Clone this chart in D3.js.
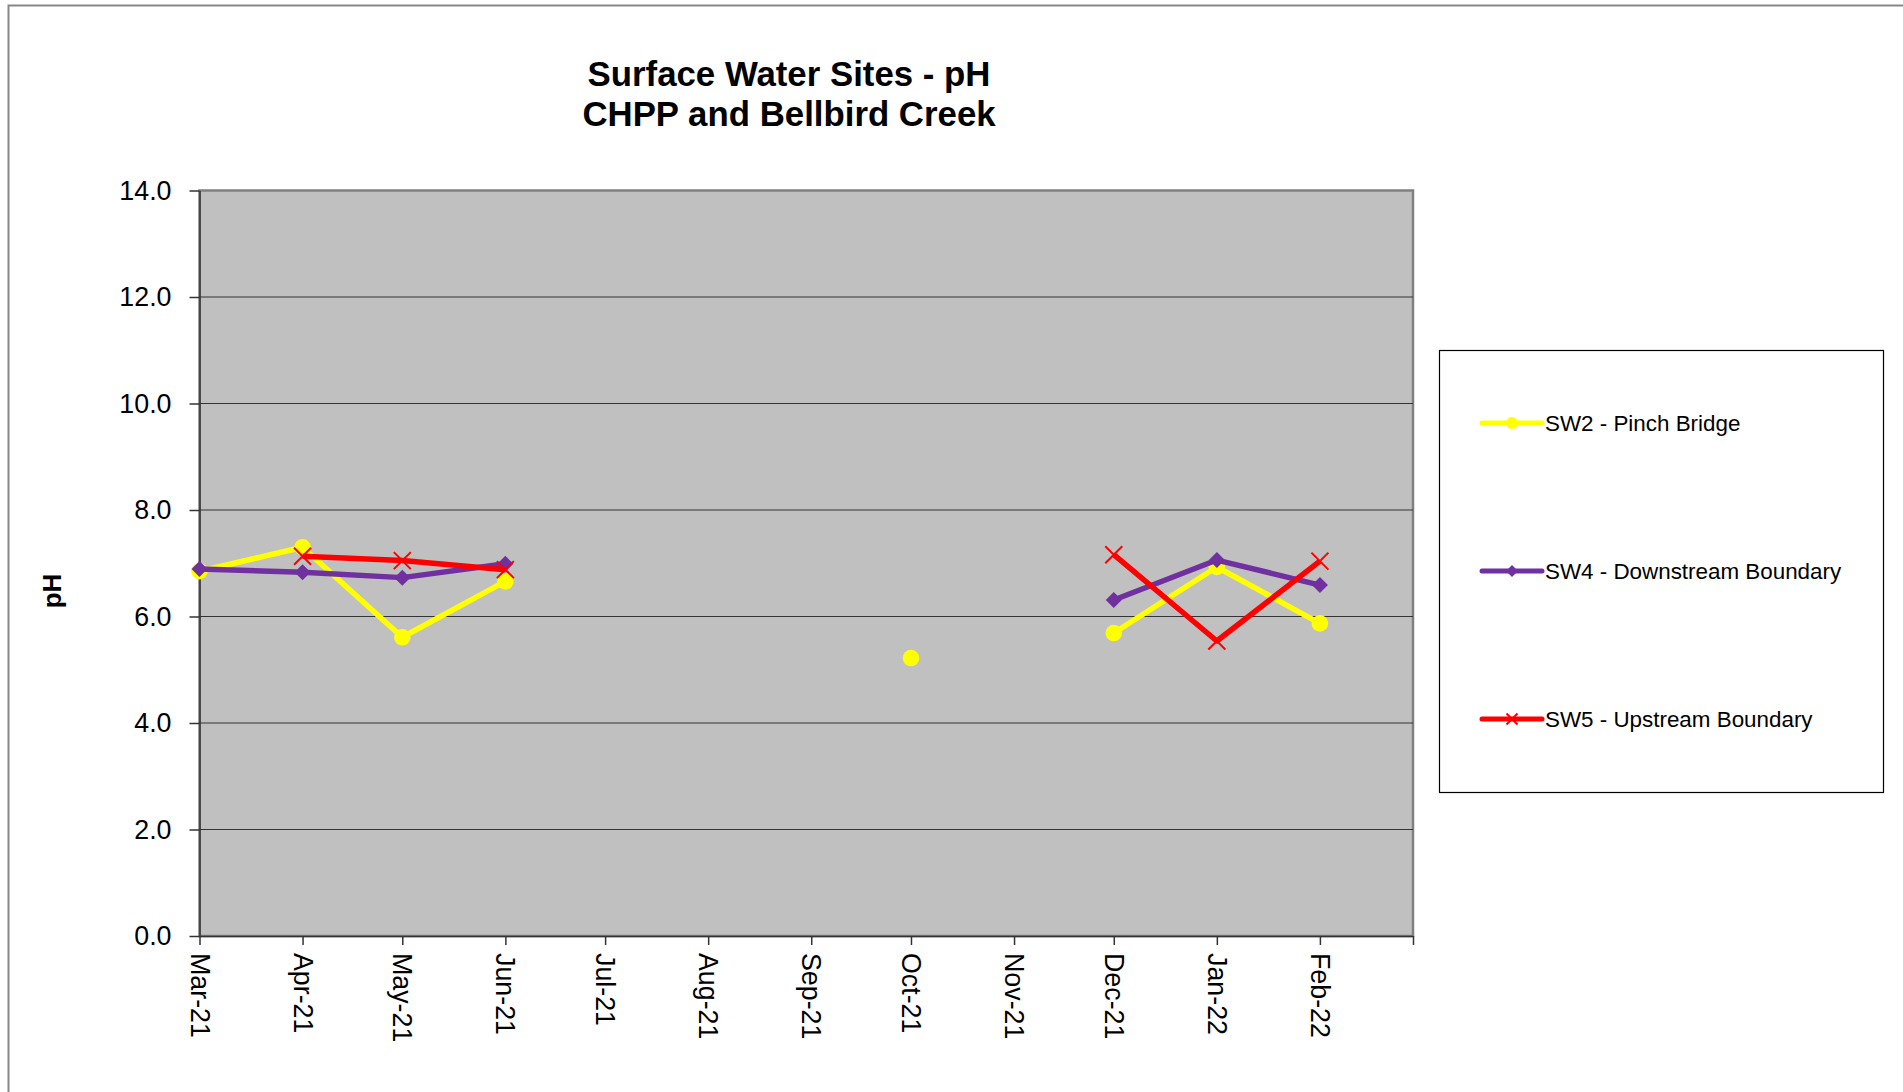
<!DOCTYPE html>
<head>
<meta charset="utf-8">
<style>
body, html {
  margin: 0;
  padding: 0;
  background: #fff;
  font-family: "Liberation Sans", Arial, sans-serif;
}
.grid line {
  stroke: #333;
  stroke-width: 1.2;
}
.axis path, .axis line {
  stroke: #333;
  stroke-width: 1.5;
}
.axis text {
  font-size: 26.8px;
  fill: #000;
}
</style>
<script src="https://d3js.org/d3.v7.min.js"></script>
</head>
<body>
<script>

// months and readings (pH), null = no sample
var months = ["2021-03-01", "2021-04-01", "2021-05-01", "2021-06-01", "2021-07-01", "2021-08-01",
              "2021-09-01", "2021-10-01", "2021-11-01", "2021-12-01", "2022-01-01", "2022-02-01"];
var sw2 = [6.85, 7.30, 5.61, 6.66, null, null, null, 5.22, null, 5.69, 6.93, 5.87];
var sw4 = [6.89, 6.83, 6.73, 6.99, null, null, null, null, null, 6.31, 7.06, 6.59];
var sw5 = [null, 7.13, 7.05, 6.88, null, null, null, null, null, 7.16, 5.54, 7.04];
var yTicks = [0, 2, 4, 6, 8, 10, 12, 14];

var seriesNames = ["SW2 - Pinch Bridge", "SW4 - Downstream Boundary", "SW5 - Upstream Boundary"];
var seriesColors = ["#ffff00", "#7030a0", "#ff0000"];
var seriesMarkers = ["circle", "diamond", "cross"];

//==========================================
var width = 1903,
    height = 1092;

var parse = d3.timeParse("%Y-%m-%d");
var dates = months.map(parse);

var plot = {left: 199.5, right: 1413, top: 190.5, bottom: 936};

var x = d3.scaleTime()
    .domain([parse("2021-03-01"), parse("2022-03-01")])
    .range([plot.left, plot.right]);

var y = d3.scaleLinear()
    .domain([0, 14])
    .range([plot.bottom, plot.top]);

var svg = d3.select("body").append("svg")
    .attr("width", width)
    .attr("height", height);

// outer chart frame
svg.append("rect")
    .attr("x", 8.5).attr("y", 5.5)
    .attr("width", width).attr("height", height)
    .attr("fill", "#fff")
    .attr("stroke", "#888")
    .attr("stroke-width", 2);

// title
var title = svg.append("text")
    .attr("text-anchor", "middle")
    .style("font-weight", "bold")
    .style("font-size", "34.8px");
title.append("tspan").attr("x", 789).attr("y", 86).text("Surface Water Sites - pH");
title.append("tspan").attr("x", 789).attr("y", 125.5).text("CHPP and Bellbird Creek");

// plot area
svg.append("rect")
    .attr("x", plot.left).attr("y", plot.top)
    .attr("width", plot.right - plot.left)
    .attr("height", plot.bottom - plot.top)
    .attr("fill", "#c0c0c0")
    .attr("stroke", "#808080")
    .attr("stroke-width", 2.5);

// horizontal gridlines
svg.append("g")
    .attr("class", "grid")
    .selectAll("line")
    .data(yTicks.slice(1, -1))
    .enter().append("line")
    .attr("x1", plot.left).attr("x2", plot.right)
    .attr("y1", function(d) { return y(d); })
    .attr("y2", function(d) { return y(d); });

// y axis
svg.append("g")
    .attr("class", "axis")
    .attr("transform", "translate(" + plot.left + ",0)")
    .call(d3.axisLeft(y).tickValues(yTicks).tickFormat(d3.format(".1f"))
      .tickSize(10).tickSizeOuter(0).tickPadding(18));

// x axis
var xAxis = svg.append("g")
    .attr("class", "axis")
    .attr("transform", "translate(0," + plot.bottom + ")")
    .call(d3.axisBottom(x).ticks(d3.timeMonth.every(1)).tickFormat(d3.timeFormat("%b-%y"))
      .tickSize(9).tickSizeOuter(0));

xAxis.selectAll("text")
    .attr("text-anchor", "start")
    .attr("transform", "translate(0,17) rotate(90)")
    .attr("x", 0).attr("y", 0)
    .attr("dy", "0.35em")
    .filter(function(d) { return d >= parse("2022-03-01"); })
    .remove();

// y label
svg.append("text")
    .attr("transform", "translate(52,591) rotate(-90)")
    .attr("text-anchor", "middle")
    .attr("dy", "0.35em")
    .style("font-weight", "bold")
    .style("font-size", "26px")
    .text("pH");

//--------------------------------------
function drawMarker(g, type, color, px, py, s) {
  if (type === "circle") {
    g.append("circle").attr("cx", px).attr("cy", py).attr("r", s)
      .attr("fill", color);
  } else if (type === "diamond") {
    g.append("path")
      .attr("d", "M" + px + "," + (py - s) + "L" + (px + s) + "," + py +
                 "L" + px + "," + (py + s) + "L" + (px - s) + "," + py + "Z")
      .attr("fill", color);
  } else {
    g.append("path")
      .attr("d", "M" + (px - s) + "," + (py - s) + "L" + (px + s) + "," + (py + s) +
                 "M" + (px + s) + "," + (py - s) + "L" + (px - s) + "," + (py + s))
      .attr("stroke", color).attr("stroke-width", 2).attr("fill", "none");
  }
}

var line = d3.line()
    .defined(function(d) { return d.v !== null; })
    .x(function(d) { return x(d.date); })
    .y(function(d) { return y(d.v); });

[sw2, sw4, sw5].forEach(function(vals, i) {
  var data = vals.map(function(v, j) { return {date: dates[j], v: v}; });
  var g = svg.append("g");
  g.append("path")
    .datum(data)
    .attr("fill", "none")
    .attr("stroke", seriesColors[i])
    .attr("stroke-width", 5.5)
    .attr("stroke-linejoin", "round")
    .attr("d", line);
  var size = [8.3, 8, 8.5][i];
  data.filter(function(d) { return d.v !== null; }).forEach(function(d) {
    drawMarker(g, seriesMarkers[i], seriesColors[i], x(d.date), y(d.v), size);
  });
});

// legend
var legend = svg.append("g");
legend.append("rect")
    .attr("x", 1439.5).attr("y", 350.5)
    .attr("width", 444).attr("height", 442)
    .attr("fill", "#fff")
    .attr("stroke", "#000")
    .attr("stroke-width", 1.2);

var legendY = [423, 571, 719];
seriesNames.forEach(function(name, i) {
  legend.append("line")
    .attr("x1", 1482).attr("x2", 1542)
    .attr("y1", legendY[i]).attr("y2", legendY[i])
    .attr("stroke", seriesColors[i])
    .attr("stroke-width", 5)
    .attr("stroke-linecap", "round");
  drawMarker(legend, seriesMarkers[i], seriesColors[i], 1512, legendY[i], [6, 6, 5.5][i]);
  legend.append("text")
    .attr("x", 1545).attr("y", legendY[i])
    .attr("dy", "0.35em")
    .style("font-size", "22.4px")
    .text(name);
});

</script>
</body>
